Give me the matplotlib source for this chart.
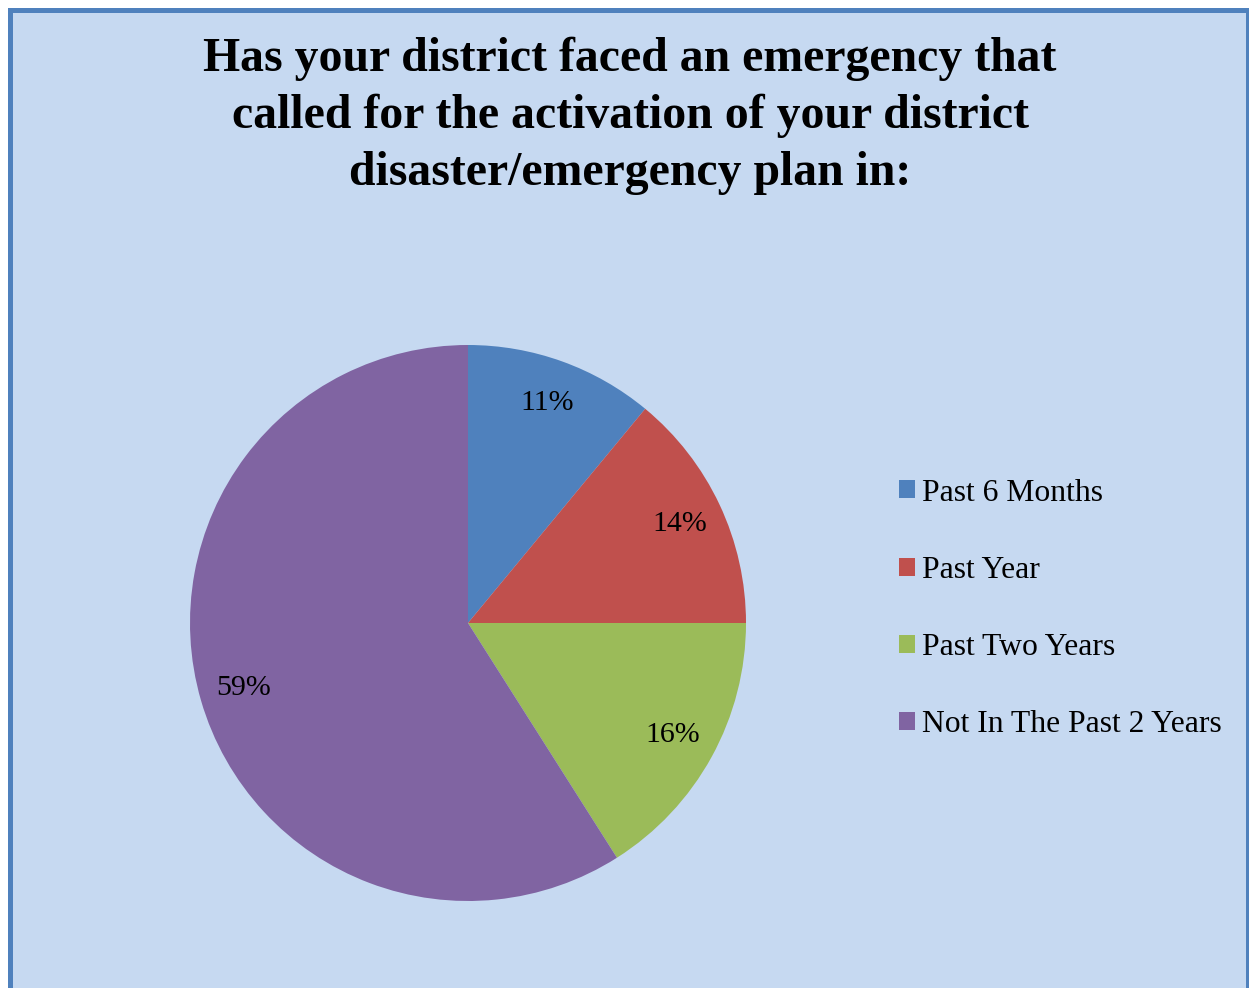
import matplotlib.pyplot as plt
from matplotlib.patches import Rectangle

# data
categories = ["Past 6 Months", "Past Year", "Past Two Years", "Not In The Past 2 Years"]
shares = [11, 14, 16, 59]
colors = ["#4F81BD", "#C0504D", "#9BBB59", "#8064A2"]
title = ("Has your district faced an emergency that\n"
         "called for the activation of your district\n"
         "disaster/emergency plan in:")

plt.rcParams["font.family"] = ["Liberation Serif", "DejaVu Serif"]

W, H = 1249, 988
fig = plt.figure(figsize=(W / 100, H / 100), dpi=100, facecolor="white")

# chart area background + border (bottom edge runs off the picture)
bg = Rectangle((9.5 / W, -0.05), (1247.5 - 9.5) / W, (H - 9.5) / H + 0.05,
               transform=fig.transFigure, facecolor="#C6D9F1",
               edgecolor="#4F81BD", linewidth=3.6, clip_on=False, zorder=-1)
fig.patches.append(bg)

fig.text(630 / W, 1 - 116 / H, title, ha="center", va="center",
         fontsize=34.4, fontweight="bold", linespacing=1.37)

# pie: centre (468, 623) px, radius 278 px
cx, cy, r = 468, 623, 278
ax = fig.add_axes([(cx - r) / W, (H - cy - r) / H, 2 * r / W, 2 * r / H])
wedges, _, autotexts = ax.pie(shares, colors=colors, startangle=90,
                              counterclock=False, autopct="%.0f%%",
                              pctdistance=0.84, radius=1.0,
                              wedgeprops=dict(linewidth=0))
for t in autotexts:
    t.set_fontsize(21.5)
    t.set_color("black")
ax.set_xlim(-1, 1)
ax.set_ylim(-1, 1)
ax.set_aspect("equal")
ax.axis("off")

# legend
leg = fig.legend(wedges, categories, loc="upper left",
                 bbox_to_anchor=(886 / W, 1 - 466 / H),
                 frameon=False, fontsize=22.8, handlelength=0.5,
                 handleheight=0.5, handletextpad=0.25, labelspacing=1.52,
                 borderaxespad=0)

fig.savefig("out.png", dpi=100, facecolor="white")
